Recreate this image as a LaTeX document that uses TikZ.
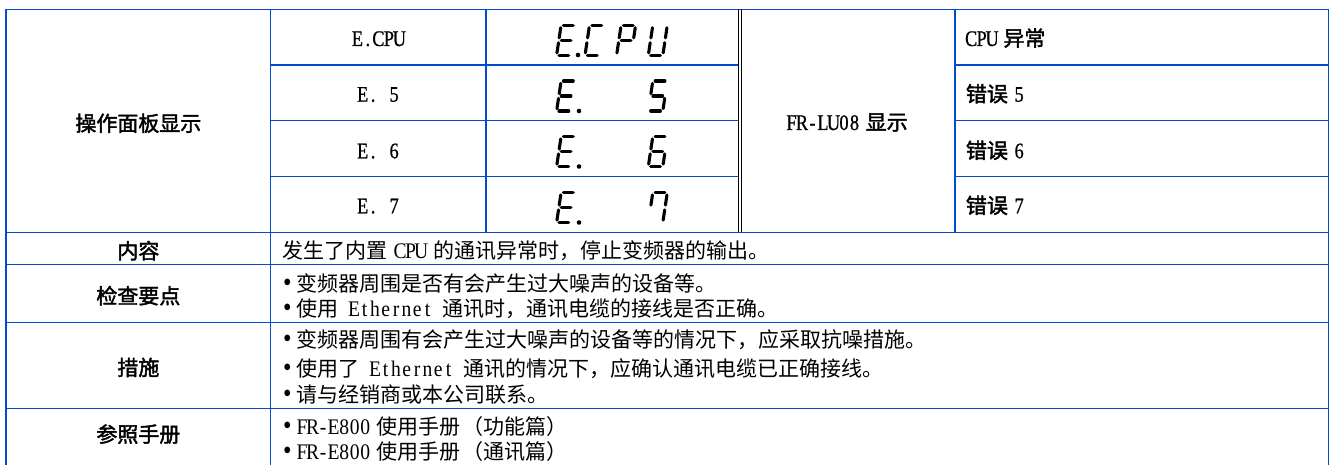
\documentclass[tikz,border=0pt]{standalone}
\usepackage{fontspec}
\setmainfont{Liberation Serif}[Scale=1.06, FakeStretch=0.88]
\newfontfamily\latb{Liberation Serif}[Scale=1.06, FakeStretch=0.82, FakeBold=0.8]
\newfontfamily\cjk{Noto Sans CJK SC}
\newfontfamily\cjkb{Noto Sans CJK SC}[FakeBold=2]
\definecolor{gridblue}{RGB}{0,76,204}
% half-width (monospaced) Latin run
\makeatletter
\newcommand\hw[1]{\hw@scan#1\relax}
\def\hw@scan#1{\ifx#1\relax\else\makebox[10.5pt]{#1}\expandafter\hw@scan\fi}
\makeatother
\newcommand\bul{\makebox[14pt][l]{\hspace{0.3pt}{\fontsize{26}{26}\selectfont •}}}
\tikzset{
  grid/.style={draw=gridblue, line width=1.4pt, line cap=rect},
  dbl/.style={draw=black, line width=0.8pt},
  segline/.style={draw=black, line width=3.1pt, line cap=round},
  txt/.style={anchor=base west, inner sep=0pt, font=\fontsize{21}{25}\selectfont},
  ctxt/.style={anchor=base, inner sep=0pt, font=\fontsize{21}{25}\selectfont},
}
% seven-segment digit: x, y of bottom-left segment centre, list of segments 0..6 = a..g
\newcommand\segdig[3]{%
  \begin{scope}[shift={(#1,#2)}, xslant=0.15]
  \foreach \s in {#3}{%
    \ifcase\s
      \draw[segline] (2.4,-30) -- (12.1,-30);%
    \or \draw[segline] (14.5,-27.6) -- (14.5,-17.4);%
    \or \draw[segline] (14.5,-12.6) -- (14.5,-2.4);%
    \or \draw[segline] (2.4,0) -- (12.1,0);%
    \or \draw[segline] (0,-2.4) -- (0,-12.6);%
    \or \draw[segline] (0,-17.4) -- (0,-27.6);%
    \or \draw[segline] (2.4,-15) -- (12.1,-15);%
    \fi}
  \end{scope}}
\newcommand\segdot[2]{\fill (#1,#2) circle[radius=2.3pt];}
\begin{document}
\begin{tikzpicture}[x=1pt,y=-1pt]
\useasboundingbox (0,0) rectangle (1329,465);
% ---- grid ----
\draw[grid] (6,9.3) -- (1328.3,9.3);
\draw[grid] (6,9.3) -- (6,465);
\draw[grid] (1328.3,9.3) -- (1328.3,465);
\draw[grid] (270.7,9.3) -- (270.7,465);
\draw[grid] (486,9.3) -- (486,232.3);
\draw[grid] (955,9.3) -- (955,232.3);
\foreach \y in {65,120.7,176.7}{
  \draw[grid] (270.7,\y) -- (738.7,\y);
  \draw[grid] (955,\y) -- (1328.3,\y);
}
\foreach \y in {232.3,264.7,322.7,408.3}{
  \draw[grid] (6,\y) -- (1328.3,\y);
}
\draw[dbl] (738.7,9.3) -- (738.7,232.3);
\draw[dbl] (741.3,9.3) -- (741.3,232.3);
% ---- upper block ----
\node[ctxt] (panel) at (138.35,131.2) {\cjkb 操作面板显示};
\node[ctxt] (c1) at (378.4,46) {\latb\hw{E.CPU}};
\node[ctxt] (c2) at (378.4,101.7) {\latb\hw{E.~5}};
\node[ctxt] (c3) at (378.4,158.3) {\latb\hw{E.~6}};
\node[ctxt] (c4) at (378.4,213.3) {\latb\hw{E.~7}};
\node[ctxt] (lu) at (847,130) {\latb\hw{FR-LU08}\hspace{6pt}{\cjkb 显示}};
\node[txt] (m1) at (965.7,46) {\latb\hw{CPU}\hspace{6pt}{\cjkb 异常}};
\node[txt] (m2) at (965.7,101.7) {{\cjkb 错误}\hspace{6pt}{\latb\hw{5}}};
\node[txt] (m3) at (965.7,158.3) {{\cjkb 错误}\hspace{6pt}{\latb\hw{6}}};
\node[txt] (m4) at (965.7,213.3) {{\cjkb 错误}\hspace{6pt}{\latb\hw{7}}};
% seven-segment displays
\segdig{556.6}{55.3}{0,5,6,4,3}\segdot{578}{55}
\segdig{585}{55.3}{0,5,4,3}
\segdig{616.6}{55.3}{0,1,5,6,4}
\segdig{648.3}{55.3}{5,1,4,2,3}
\segdig{556.6}{111}{0,5,6,4,3}\segdot{579}{111}
\segdig{648.3}{111}{0,5,6,2,3}
\segdig{556.6}{166.5}{0,5,6,4,3}\segdot{579}{166.5}
\segdig{648.3}{166.5}{0,5,6,4,2,3}
\segdig{556.6}{222.5}{0,5,6,4,3}\segdot{579}{222.5}
\segdig{648.3}{222.5}{0,5,1,2}
% ---- lower block ----
\node[ctxt] (l1) at (138.35,258.7) {\cjkb 内容};
\node[txt] (t1) at (282.7,258.7) {{\cjk 发生了内置}\hspace{7pt}\hw{CPU}\hspace{7pt}{\cjk 的通讯异常时，停止变频器的输出。}};
\node[ctxt] (l2) at (138.35,303.7) {\cjkb 检查要点};
\node[txt] (t2a) at (282.7,291.2) {\bul{\cjk 变频器周围是否有会产生过大噪声的设备等。}};
\node[txt] (t2b) at (282.7,316.9) {\bul{\cjk 使用}\hspace{10pt}\hw{Ethernet}\hspace{10pt}{\cjk 通讯时，通讯电缆的接线是否正确。}};
\node[ctxt] (l3) at (138.35,375.4) {\cjkb 措施};
\node[txt] (t3a) at (282.7,347.9) {\bul{\cjk 变频器周围有会产生过大噪声的设备等的情况下，应采取抗噪措施。}};
\node[txt] (t3b) at (282.7,376.2) {\bul{\cjk 使用了}\hspace{10pt}\hw{Ethernet}\hspace{10pt}{\cjk 通讯的情况下，应确认通讯电缆已正确接线。}};
\node[txt] (t3c) at (282.7,402.9) {\bul{\cjk 请与经销商或本公司联系。}};
\node[ctxt] (l4) at (138.35,442.1) {\cjkb 参照手册};
\node[txt] (t4a) at (282.7,434.6) {\bul\hw{FR-E800}\hspace{6pt}{\cjk 使用手册}\hspace{2pt}{\cjk （功能篇）}};
\node[txt] (t4b) at (282.7,459.6) {\bul\hw{FR-E800}\hspace{6pt}{\cjk 使用手册}\hspace{2pt}{\cjk （通讯篇）}};
\end{tikzpicture}
\end{document}
